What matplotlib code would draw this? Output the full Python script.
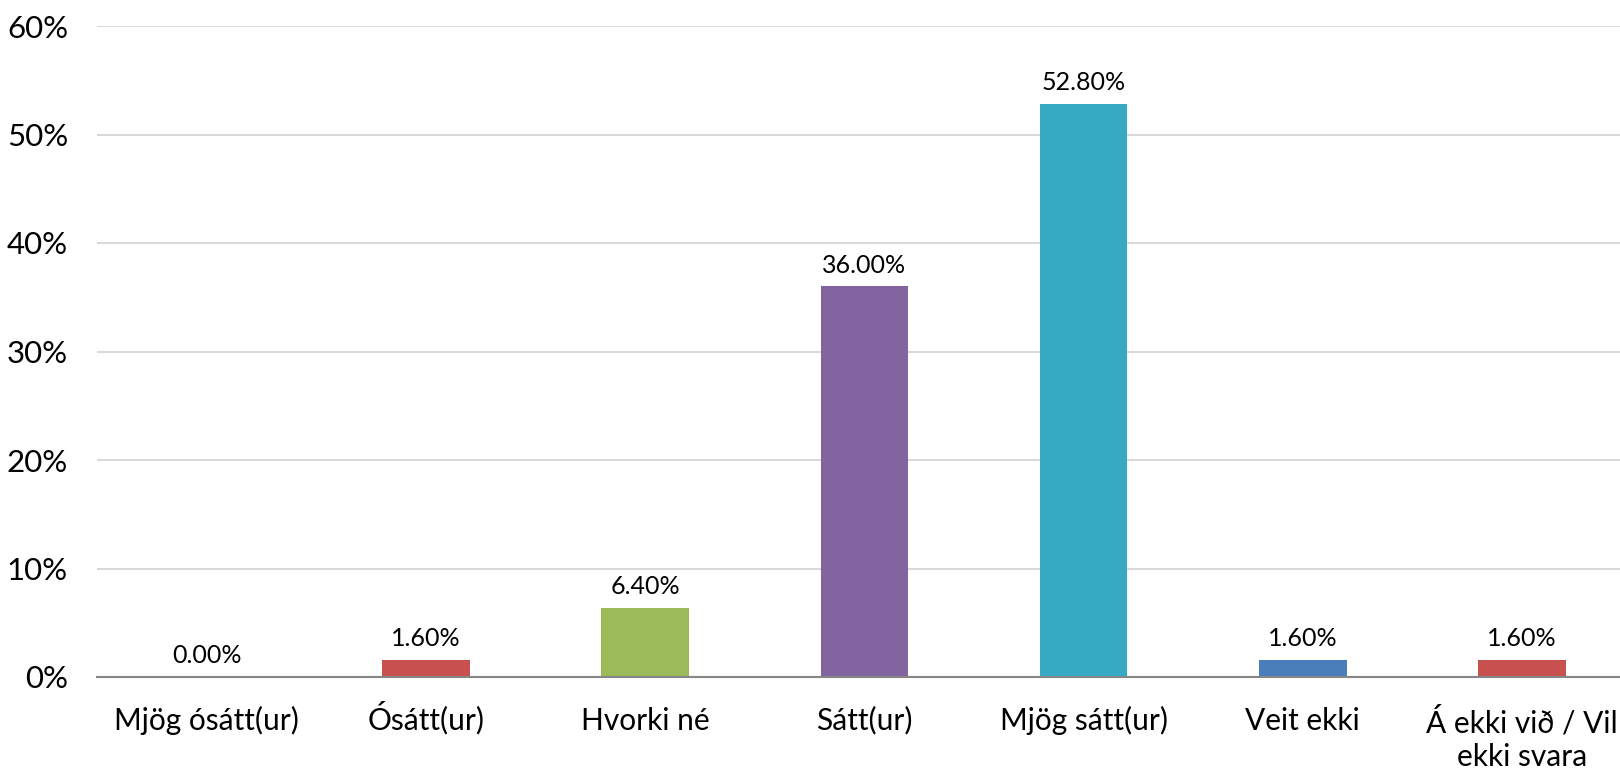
import matplotlib
matplotlib.use("Agg")
import matplotlib.pyplot as plt
import matplotlib.ticker as mticker

# Survey response shares (%)
categories = ["Mjög ósátt(ur)", "Ósátt(ur)", "Hvorki né", "Sátt(ur)",
              "Mjög sátt(ur)", "Veit ekki", "Á ekki við / Vil\nekki svara"]
values = [0.0, 1.6, 6.4, 36.0, 52.8, 1.6, 1.6]
colors = ["#C0504D", "#C8504F", "#9BBB59", "#8264A0", "#37AAC3", "#4A7EBB", "#C8504F"]
yticks = [0, 10, 20, 30, 40, 50, 60]

plt.rcParams["font.family"] = ["Lato", "DejaVu Sans"]

fig = plt.figure(figsize=(16.2, 7.71), dpi=100)
W, H = 1620, 771
ax_h = (677 - 26) / H
ax = fig.add_axes([97.2 / W, (H - 677) / H, (W - 97.2) / W, ax_h])

x = range(len(categories))
bars = ax.bar(x, values, width=0.40, color=colors, zorder=3)
ax.bar_label(bars, labels=[f"{v:.2f}%" for v in values], padding=7,
             fontsize=18, color="#000000")

ax.set_xlim(-0.5, 6.447)
ax.set_ylim(0, 60)
ax.set_yticks(yticks)
ax.yaxis.set_major_formatter(mticker.FuncFormatter(lambda v, _: f"{v:.0f}%"))
ax.set_xticks(list(x))
ax.set_xticklabels(categories, fontsize=21.5, linespacing=1.22)
# baseline-align so accented capitals don't push labels down;
# multi-line labels align on their last line, so drop them by one line
line_px = 36
for lbl in ax.get_xticklabels():
    lbl.set_verticalalignment("baseline")
    n_extra = lbl.get_text().count("\n")
    if n_extra:
        lbl.set_y(-n_extra * line_px / (ax_h * H))
ax.tick_params(axis="y", labelsize=22.5, length=0, pad=21)
ax.tick_params(axis="x", length=0, pad=38)

ax.grid(axis="y", color="#D9D9D9", linewidth=1.5, zorder=0)
for s in ["top", "right", "left"]:
    ax.spines[s].set_visible(False)
ax.spines["bottom"].set_color("#868686")
ax.spines["bottom"].set_linewidth(1.5)
ax.spines["bottom"].set_zorder(4)

fig.savefig("out.png", dpi=100)
